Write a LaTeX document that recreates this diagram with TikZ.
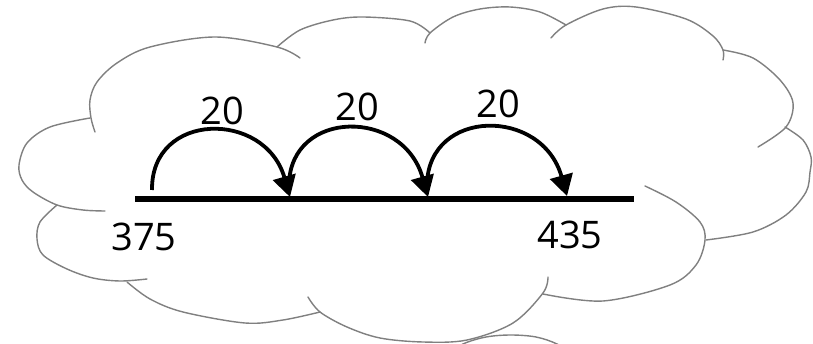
\documentclass[tikz,border=0pt]{standalone}
\usepackage{fontspec}
\setmainfont{Open Sans}
\usetikzlibrary{arrows.meta}
\begin{document}
\begin{tikzpicture}[x=1pt,y=-1pt,
  lobe/.style={draw=gray, line width=1.4pt, line cap=round},
  numline/.style={line width=6pt},
  jump/.style={line width=3.8pt, -{Triangle[length=21pt,width=23pt]}},
  lbl/.style={font=\fontsize{38}{40}\selectfont, inner sep=0pt}]
\useasboundingbox (0,0) rectangle (813,344);
\clip (0,0) rectangle (813,344);
\fill[white] (0,0) rectangle (813,344);
% cloud lobes
\draw[lobe] plot[smooth, tension=0.55] coordinates {(90,118) (50,127) (27,143) (19,165) (22,180) (33,192) (57,205) (83,210) (105,211)};
\draw[lobe] plot[smooth, tension=0.55] coordinates {(57,205) (40,222) (37,239) (43,255) (67,269) (93,278) (120,281) (147,279)};
\draw[lobe] plot[smooth, tension=0.55] coordinates {(127,282) (150,299) (183,312) (245,323) (283,320) (320,312)};
\draw[lobe] plot[smooth, tension=0.55] coordinates {(308,297) (320,312) (347,327) (380,338) (423,342) (467,340) (513,323) (543,293) (548,277)};
\draw[lobe] plot[smooth, tension=0.55] coordinates {(645,186) (676,202) (700,222) (705,240) (696,265) (670,285) (603,301) (543,294)};
\draw[lobe] plot[smooth, tension=0.55] coordinates {(785,127) (803,140) (811,157) (810,172) (806,192) (786,215) (753,232) (706,240)};
\draw[lobe] plot[smooth, tension=0.55] coordinates {(723,50) (753,58) (780,80) (793,103) (786,127) (758,147)};
\draw[lobe] plot[smooth, tension=0.55] coordinates {(551,38) (566,25) (603,9) (636,7) (686,19) (713,36) (723,50) (723,60)};
\draw[lobe] plot[smooth, tension=0.55] coordinates {(425,43) (430,33) (453,17) (480,9) (510,7) (540,12) (566,25)};
\draw[lobe] plot[smooth, tension=0.55] coordinates {(277,47) (300,30) (333,20) (363,17) (410,21) (430,33)};
\draw[lobe] plot[smooth, tension=0.55] coordinates {(95,132) (91,118) (90,100) (97,82) (117,63) (150,47) (215,37) (277,47) (300,58)};
% small puff below
\draw[lobe] plot[smooth, tension=0.55] coordinates {(445,356) (463,344) (486,337) (511,335) (536,337) (557,344) (575,356)};
% number line
\coordinate (L) at (135,199);
\coordinate (R) at (634,199);
\draw[numline] (L) -- (R);
% jumps
\coordinate (s1) at (152,190);
\coordinate (t1) at (290,197);
\coordinate (s2) at (289,184);
\coordinate (t2) at (428,197);
\coordinate (s3) at (427,184);
\coordinate (t3) at (567,196);
\draw[jump] (s1) .. controls (151,111) and (265,110) .. (t1);
\draw[jump] (s2) .. controls (291,109) and (403,108) .. (t2);
\draw[jump] (s3) .. controls (429,108) and (542,107) .. (t3);
% labels
\node[lbl] (a1) at (222,111) {20};
\node[lbl] (a2) at (357,107) {20};
\node[lbl] (a3) at (498,104) {20};
\node[lbl] (n1) at (144,237) {375};
\node[lbl] (n2) at (570,235) {435};
\end{tikzpicture}
\end{document}
